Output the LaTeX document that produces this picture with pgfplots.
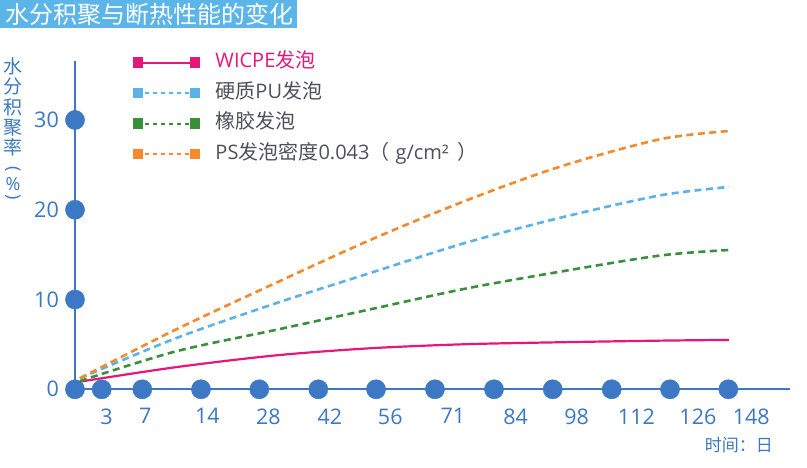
\documentclass[border=0pt]{standalone}
\usepackage{graphicx}
\usepackage{pgfplots}
\pgfplotsset{compat=1.18}
\usepackage{fontspec}
\setmainfont{Open Sans}
\newfontfamily\cjk{Noto Sans CJK SC}
\definecolor{axisblue}{HTML}{3C78C3}
\definecolor{titleblue}{HTML}{5BB5E8}
\definecolor{pinkc}{HTML}{E6177A}
\definecolor{lbluec}{HTML}{5AB2E6}
\definecolor{greenc}{HTML}{3A8F3C}
\definecolor{orangec}{HTML}{F5892B}
\definecolor{leggray}{HTML}{50505C}
\pgfplotsset{
  legsolid/.style={legend image code/.code={
    \draw[##1, line width=2bp, solid] (0bp,0bp) -- (57bp,0bp);
    \fill[##1, solid] (-4bp,-4bp) rectangle (4bp,4bp);
    \fill[##1, solid] (53bp,-4bp) rectangle (61bp,4bp);}},
  legdash/.style={legend image code/.code={
    \draw[##1, line width=2bp, dash pattern=on 4bp off 4bp, dash phase=-3bp] (4bp,0bp) -- (53bp,0bp);
    \fill[##1, solid] (-4bp,-4bp) rectangle (4bp,4bp);
    \fill[##1, solid] (53bp,-4bp) rectangle (61bp,4bp);}},
}
\begin{document}
\begin{tikzpicture}
\path[use as bounding box, fill=white] (0,0) rectangle (807bp,468bp);
\fill[titleblue] (0,440bp) rectangle (297bp,468bp);
\node[anchor=west, inner sep=0pt, text=white, font=\cjk\fontsize{24bp}{24bp}\selectfont] at (5bp,454bp) {水分积聚与断热性能的变化};
\begin{scope}[every node/.style={inner sep=0pt, text=axisblue, font=\cjk\fontsize{19bp}{19bp}\selectfont}]
\node at (13bp,401.5bp) {水};
\node at (13bp,381.3bp) {分};
\node at (13bp,361bp) {积};
\node at (13bp,340.7bp) {聚};
\node at (13bp,320.4bp) {率};
\node[font=\fontsize{18bp}{18bp}\selectfont] at (13bp,298bp) {\rotatebox[origin=c]{-90}{(}};
\node[font=\fontsize{18bp}{18bp}\selectfont] at (13bp,283.5bp) {\%};
\node[font=\fontsize{18bp}{18bp}\selectfont] at (13bp,270bp) {\rotatebox[origin=c]{-90}{)}};
\end{scope}
\node[anchor=east, inner sep=0pt, text=axisblue, font=\cjk\fontsize{17bp}{17bp}\selectfont] at (773bp,23bp) {时间：日};
\begin{axis}[
  at={(75bp,78.7bp)}, anchor=south west,
  x=58.6bp, y=8.977bp,
  xmin=0, xmax=12.2, ymin=0, ymax=36.6,
  clip=false,
  axis x line=bottom, axis y line=left,
  axis line style={-, draw=axisblue, line width=2.2bp},
  major tick length=0pt,
  /pgf/number format/assume math mode=true,
  xtick={0.54,1.2,2.26,3.3,4.35,5.38,6.45,7.52,8.56,9.58,10.63,11.54},
  xticklabels={3,7,14,28,42,56,71,84,98,112,126,148},
  ytick={0,10,20,30},
  xticklabel style={anchor=north, inner sep=0pt, yshift=-19bp, text=axisblue, font=\fontsize{21.5bp}{22bp}\selectfont},
  yticklabel style={anchor=east, inner sep=0pt, xshift=-16bp, text=axisblue, font=\fontsize{21.5bp}{22bp}\selectfont},
  legend cell align=left,
  legend style={at={(0.0807,1.0256)}, anchor=north west, draw=none, fill=none, inner sep=0pt,
    row sep=10.5bp, nodes={inner sep=0pt, text height=15bp, text depth=5bp},
    /tikz/every odd column/.append style={column sep=15bp},
    font=\fontsize{20bp}{24bp}\selectfont, text=leggray},
]
\addplot[color=pinkc, line width=2.2bp, smooth, legsolid] coordinates {
  (0.085,0.85) (1.706,2.45) (3.413,3.77) (5.034,4.57) (6.655,5.02) (8.276,5.24) (9.983,5.42) (11.16,5.5)};
\addlegendentry{\textcolor{pinkc}{WICPE{\cjk 发泡}}}
\addplot[color=lbluec, line width=2.6bp, dash pattern=on 7bp off 4.5bp, smooth, legdash] coordinates {
  (0.085,1.23) (1.706,5.65) (3.413,9.55) (5.034,12.95) (6.655,16.3) (8.276,19.1) (9.983,21.6) (11.16,22.54)};
\addlegendentry{{\cjk 硬质}PU{\cjk 发泡}}
\addplot[color=greenc, line width=2.6bp, dash pattern=on 7bp off 4.5bp, smooth, legdash] coordinates {
  (0.085,0.92) (1.706,4.2) (3.413,6.6) (5.034,8.9) (6.655,11.2) (8.276,13.1) (9.983,14.9) (11.16,15.52)};
\addlegendentry{{\cjk 橡胶发泡}}
\addplot[color=orangec, line width=2.6bp, dash pattern=on 7bp off 4.5bp, smooth, legdash] coordinates {
  (0.085,1.23) (1.706,6.61) (3.413,11.81) (5.034,16.62) (6.655,20.98) (8.276,24.8) (9.983,27.85) (11.16,28.77)};
\addlegendentry{PS{\cjk 发泡密度}0.043{\cjk （}\hspace{6bp}g/cm²\hspace{9bp}{\cjk ）}}
\addplot[only marks, mark=*, mark size=9.6bp, color=axisblue, forget plot] coordinates {
  (0,0) (0.456,0) (1.148,0) (2.150,0) (3.145,0) (4.152,0) (5.137,0) (6.143,0) (7.15,0) (8.152,0) (9.159,0) (10.154,0) (11.149,0)
  (0,10) (0,20) (0,30)};
\end{axis}
\end{tikzpicture}
\end{document}
